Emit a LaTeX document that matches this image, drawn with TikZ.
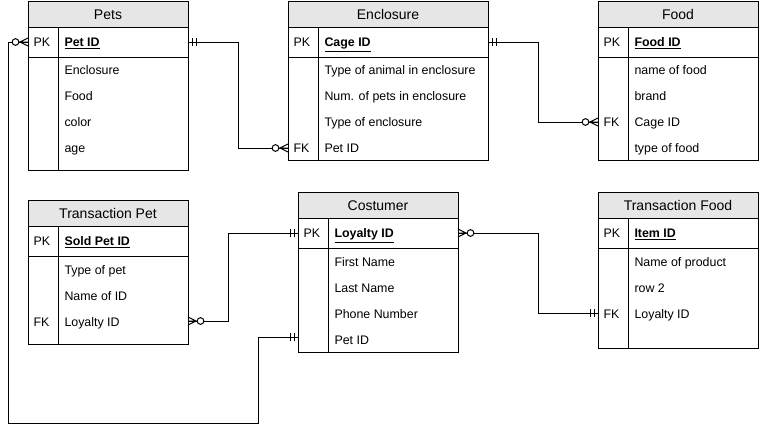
\documentclass[tikz,border=0pt]{standalone}
\usepackage{fontspec}
\setmainfont{Liberation Sans}
\definecolor{hdrgray}{HTML}{E6E6E6}
\newcommand{\erframe}[4]{%
  \draw[fill=hdrgray] (#1,#2) rectangle (#3,#2+26);
  \draw (#1,#2+26) rectangle (#3,#4);
  \draw (#1,#2+56) -- (#3,#2+56);
  \draw (#1+30,#2+26) -- (#1+30,#4);
}
\begin{document}
\begin{tikzpicture}[x=0.75pt,y=-0.75pt,line width=0.75pt,
  ttl/.style={font=\fontsize{10.5pt}{12pt}\selectfont,inner sep=0pt,yshift=-0.6pt},
  fld/.style={font=\fontsize{9.3pt}{11pt}\selectfont,anchor=mid west,inner sep=0pt,yshift=-0.8pt},
  keyf/.style={fld,font=\fontsize{9.3pt}{11pt}\selectfont\bfseries},
  pkf/.style={fld},
  conn/.style={draw=black,line width=0.75pt},
  zm/.pic={\draw (0,0) -- (8,0) (0,4) -- (8,0) -- (0,-4);
           \draw[fill=white] (12.5,0) circle[radius=2.5pt];},
  onem/.pic={\draw (4,-4) -- (4,4) (8,-4) -- (8,4);}
]
\useasboundingbox (0,0) rectangle (759,433);
\fill[white] (0,0) rectangle (759,433);

% ---- Pets
\erframe{28}{1}{188}{170}
\node[ttl] (petsT) at (108,14) {Pets};
\node[pkf] (petsPKl) at (33,42) {PK};
\node[keyf] (petsK) at (64,42) {\underline{Pet ID}};
\node[fld] (pets1) at (64,70) {Enclosure};
\node[fld] (pets2) at (64,96) {Food};
\node[fld] (pets3) at (64,122) {color};
\node[fld] (pets4) at (64,148) {age};

% ---- Enclosure
\erframe{288}{1}{488}{160}
\node[ttl] (encT) at (388,14) {Enclosure};
\node[pkf] (encPKl) at (293,42) {PK};
\node[keyf] (encK) at (324,42) {\underline{Cage ID}};
\node[fld] (enc1) at (324,70) {Type of animal in enclosure};
\node[fld] (enc2) at (324,96) {Num. of pets in enclosure};
\node[fld] (enc3) at (324,122) {Type of enclosure};
\node[pkf] (encFKl) at (293,148) {FK};
\node[fld] (enc4) at (324,148) {Pet ID};

% ---- Food
\erframe{598}{1}{758}{160}
\node[ttl] (foodT) at (678,14) {Food};
\node[pkf] (foodPKl) at (603,42) {PK};
\node[keyf] (foodK) at (634,42) {\underline{Food ID}};
\node[fld] (food1) at (634,70) {name of food};
\node[fld] (food2) at (634,96) {brand};
\node[pkf] (foodFKl) at (603,122) {FK};
\node[fld] (food3) at (634,122) {Cage ID};
\node[fld] (food4) at (634,148) {type of food};

% ---- Transaction Pet
\erframe{28}{200}{188}{344}
\node[ttl] (tpT) at (108,213) {Transaction Pet};
\node[pkf] (tpPKl) at (33,241) {PK};
\node[keyf] (tpK) at (64,241) {\underline{Sold Pet ID}};
\node[fld] (tp1) at (64,270) {Type of pet};
\node[fld] (tp2) at (64,296) {Name of ID};
\node[pkf] (tpFKl) at (33,322) {FK};
\node[fld] (tp3) at (64,322) {Loyalty ID};

% ---- Costumer
\erframe{298}{192}{458}{352}
\node[ttl] (cuT) at (378,205) {Costumer};
\node[pkf] (cuPKl) at (303,233) {PK};
\node[keyf] (cuK) at (334,233) {\underline{Loyalty ID}};
\node[fld] (cu1) at (334,262) {First Name};
\node[fld] (cu2) at (334,288) {Last Name};
\node[fld] (cu3) at (334,314) {Phone Number};
\node[fld] (cu4) at (334,340) {Pet ID};

% ---- Transaction Food
\erframe{598}{192}{758}{348}
\node[ttl] (tfT) at (678,205) {Transaction Food};
\node[pkf] (tfPKl) at (603,233) {PK};
\node[keyf] (tfK) at (634,233) {\underline{Item ID}};
\node[fld] (tf1) at (634,262) {Name of product};
\node[fld] (tf2) at (634,288) {row 2};
\node[pkf] (tfFKl) at (603,314) {FK};
\node[fld] (tf3) at (634,314) {Loyalty ID};

% ---- connector end points
\coordinate (petsR) at (188,42);
\coordinate (petsL) at (28,42);
\coordinate (encFK) at (288,148);
\coordinate (encR) at (488,42);
\coordinate (foodFK) at (598,122);
\coordinate (tpFK) at (188,321);
\coordinate (cuPKL) at (298,233);
\coordinate (cuPKR) at (458,233);
\coordinate (cuPet) at (298,337);
\coordinate (tfFK) at (598,313);

% ---- connectors
\draw[conn] (petsR) -- (238,42) |- (encFK);
\draw[conn] (encR) -- (538,42) |- (foodFK);
\draw[conn] (petsL) -- (8,42) -- (8,423) -- (258,423) |- (cuPet);
\draw[conn] (tpFK) -- (228,321) |- (cuPKL);
\draw[conn] (cuPKR) -- (538,233) |- (tfFK);

% ---- end markers
\pic at (petsR) {onem};
\pic[xscale=-1] at (encFK) {zm};
\pic at (encR) {onem};
\pic[xscale=-1] at (foodFK) {zm};
\pic[xscale=-1] at (petsL) {zm};
\pic[xscale=-1] at (cuPet) {onem};
\pic at (tpFK) {zm};
\pic[xscale=-1] at (cuPKL) {onem};
\pic at (cuPKR) {zm};
\pic[xscale=-1] at (tfFK) {onem};
\end{tikzpicture}
\end{document}
